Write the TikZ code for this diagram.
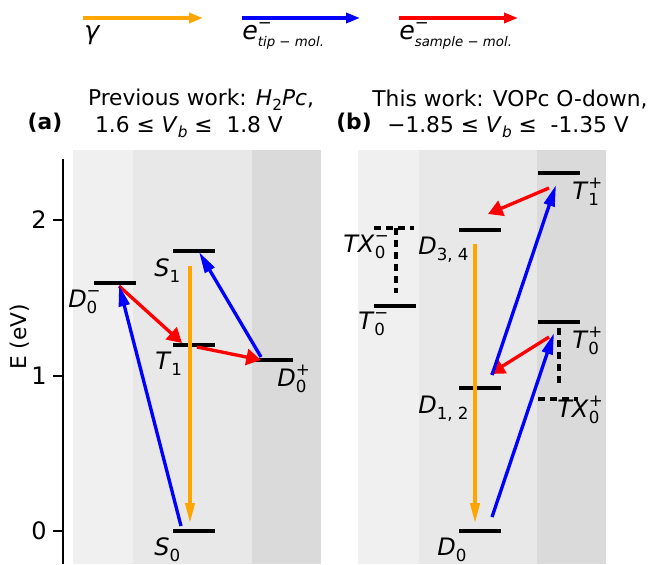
\documentclass[tikz,border=0pt]{standalone}
\usepackage{fontspec}
\setmainfont{DejaVu Sans}
\usetikzlibrary{arrows.meta}
\definecolor{bgA}{RGB}{240,240,240}
\definecolor{bgB}{RGB}{232,232,232}
\definecolor{bgC}{RGB}{218,218,218}
\definecolor{mplorange}{RGB}{255,165,0}
\newcommand\subsz{\fontsize{12.5}{13}\selectfont}
\newcommand\legsub{\fontsize{10}{11}\selectfont}
\newcommand\ttlsub{\fontsize{11.5}{12}\selectfont}
% base with stacked subscript and superscript
\newcommand\lvss[3]{\textit{#1}\makebox[0pt][l]{\raisebox{-0.27em}{\subsz\upshape #2}}\raisebox{0.42em}{\subsz\upshape #3}\hspace{0.15em}}
% base with subscript only
\newcommand\lvs[2]{\textit{#1}\raisebox{-0.27em}{\subsz\upshape #2}}
\begin{document}
\begin{tikzpicture}[x=0.75pt,y=-0.75pt,
  lvl/.style={line width=2.4pt},
  lvd/.style={line width=2.4pt, dash pattern=on 5.5pt off 3.5pt},
  arrb/.style={line width=2.5pt, blue, -{Triangle[length=16pt,width=8pt]}},
  arrr/.style={line width=2.5pt, red, -{Triangle[length=11pt,width=12pt]}},
  arro/.style={line width=2.4pt, mplorange, -{Triangle[length=15pt,width=7pt]}},
  arrl/.style={line width=2.5pt, -{Triangle[length=10.5pt,width=7.5pt]}},
  lab/.style={inner sep=0pt, anchor=base west, font=\fontsize{18}{21}\selectfont},
  ttl/.style={inner sep=0pt, font=\fontsize{16.3}{19}\selectfont},
  tick/.style={inner sep=0pt, font=\fontsize{18}{21}\selectfont}]
\useasboundingbox (0,0) rectangle (649,564);
% backgrounds
\fill[bgA] (73,150) rectangle (133,564);
\fill[bgB] (133,150) rectangle (252,564);
\fill[bgC] (252,150) rectangle (321,564);
\fill[bgA] (358,150) rectangle (419,564);
\fill[bgB] (419,150) rectangle (537,564);
\fill[bgC] (537,150) rectangle (606,564);
% axis
\draw[line width=1.5pt] (63,159) -- (63,564);
\foreach \yy/\tt in {220/2,376/1,531/0}{
  \draw[line width=1.2pt] (53,\yy) -- (63,\yy);
  \node[tick, anchor=east] at (47,\yy) {\tt};
}
\node[ttl, rotate=90] (ylab) at (20,337) {E (eV)};
% legend
\coordinate (lg1) at (83,18); \coordinate (lg2) at (203,18);
\coordinate (lb1) at (242,18); \coordinate (lb2) at (360,18);
\coordinate (lr1) at (399,18); \coordinate (lr2) at (518,18);
\draw[arrl, mplorange] (lg1) -- (lg2);
\draw[arrl, blue] (lb1) -- (lb2);
\draw[arrl, red] (lr1) -- (lr2);
\node[lab, font=\fontsize{19}{22}\selectfont] (lgt) at (84,39) {\textit{γ}};
\node[lab, font=\fontsize{19}{22}\selectfont] (lbt) at (242,39) {\textit{e}\makebox[0pt][l]{\raisebox{-0.3em}{\legsub\itshape tip − mol.}}\raisebox{0.42em}{\subsz −}};
\node[lab, font=\fontsize{19}{22}\selectfont] (lrt) at (399,39) {\textit{e}\makebox[0pt][l]{\raisebox{-0.3em}{\legsub\itshape sample − mol.}}\raisebox{0.42em}{\subsz −}};
% titles
\node[ttl] (ta1) at (201,100) {Previous work: \textit{H}\raisebox{-0.25em}{\ttlsub 2}\textit{Pc},};
\node[ttl] (ta2) at (189,127) {1.6 ≤ \textit{V}\raisebox{-0.25em}{\ttlsub\itshape b} ≤ ~1.8 V};
\node[ttl, font=\fontsize{16.3}{19}\selectfont\bfseries] (pa) at (45,123) {(a)};
\node[ttl] (tb1) at (510,100) {This work: VOPc O-down,};
\node[ttl] (tb2) at (508,127) {−1.85 ≤ \textit{V}\raisebox{-0.25em}{\ttlsub\itshape b} ≤ ~-1.35 V};
\node[ttl, font=\fontsize{16.3}{19}\selectfont\bfseries] (pb) at (354,123) {(b)};
% ---------- panel (a) levels
\draw[lvl] (94,283) coordinate (D0mL) -- (136,283) coordinate (D0mR);
\draw[lvl] (173,251) coordinate (S1L) -- (215,251) coordinate (S1R);
\draw[lvl] (173,345) coordinate (T1L) -- (215,345) coordinate (T1R);
\draw[lvl] (252,360) coordinate (DpL) -- (293,360) coordinate (DpR);
\draw[lvl] (173,531) coordinate (S0L) -- (215,531) coordinate (S0R);
\node[lab] (lD0m) at (68,307) {\lvss{D}{0}{−}};
\node[lab] (lS1) at (154,276) {\lvs{S}{1}};
\node[lab] (lT1) at (155,369) {\lvs{T}{1}};
\node[lab] (lDp) at (277,386) {\lvss{D}{0}{+}};
\node[lab] (lS0) at (154,555) {\lvs{S}{0}};
% panel (a) arrows
\coordinate (ao1) at (190,266); \coordinate (ao2) at (190,523);
\coordinate (ab1s) at (181,526); \coordinate (ab1e) at (119,285);
\coordinate (ab2s) at (261,357); \coordinate (ab2e) at (199,252);
\coordinate (ar1s) at (119,286); \coordinate (ar1e) at (182,343);
\coordinate (ar2s) at (197,347); \coordinate (ar2e) at (261,360);
\draw[arro] (ao1) -- (ao2);
\draw[arrr] (ar1s) -- (ar1e);
\draw[arrr] (ar2s) -- (ar2e);
\draw[arrb] (ab1s) -- (ab1e);
\draw[arrb] (ab2s) -- (ab2e);
% ---------- panel (b) levels
\draw[lvl] (538,173) coordinate (T1pL) -- (580,173) coordinate (T1pR);
\draw[lvl] (459,230) coordinate (D34L) -- (501,230) coordinate (D34R);
\draw[lvd] (374,228) coordinate (TXmL) -- (414,228) coordinate (TXmR);
\draw[lvd] (396,228) coordinate (TXmV1) -- (396,293) coordinate (TXmV2);
\draw[lvl] (374,306) coordinate (T0mL) -- (416,306) coordinate (T0mR);
\draw[lvl] (538,322) coordinate (T0pL) -- (580,322) coordinate (T0pR);
\draw[lvd] (559,328) coordinate (TXpV1) -- (559,387) coordinate (TXpV2);
\draw[lvd] (538,399) coordinate (TXpL) -- (578,399) coordinate (TXpR);
\draw[lvl] (459,388) coordinate (D12L) -- (501,388) coordinate (D12R);
\draw[lvl] (459,531) coordinate (DbL) -- (501,531) coordinate (DbR);
\node[lab] (lTXm) at (343,252) {\lvss{TX}{0}{−}};
\node[lab] (lD34) at (418,254) {\lvs{D}{3, 4}};
\node[lab] (lT0m) at (358,329) {\lvss{T}{0}{−}};
\node[lab] (lT1p) at (572,199) {\lvss{T}{1}{+}};
\node[lab] (lT0p) at (572,348) {\lvss{T}{0}{+}};
\node[lab] (lTXp) at (557,417) {\lvss{TX}{0}{+}};
\node[lab] (lD12) at (418,413) {\lvs{D}{1, 2}};
\node[lab] (lDb) at (437,555) {\lvs{D}{0}};
% panel (b) arrows
\coordinate (bo1) at (475,244); \coordinate (bo2) at (475,523);
\coordinate (bb1s) at (492,517); \coordinate (bb1e) at (554,333);
\coordinate (bb2s) at (492,375); \coordinate (bb2e) at (556,185);
\coordinate (br1s) at (549,188); \coordinate (br1e) at (488,214);
\coordinate (br2s) at (549,337); \coordinate (br2e) at (490,374);
\draw[arro] (bo1) -- (bo2);
\draw[arrr] (br1s) -- (br1e);
\draw[arrr] (br2s) -- (br2e);
\draw[arrb] (bb1s) -- (bb1e);
\draw[arrb] (bb2s) -- (bb2e);
\end{tikzpicture}
\end{document}
